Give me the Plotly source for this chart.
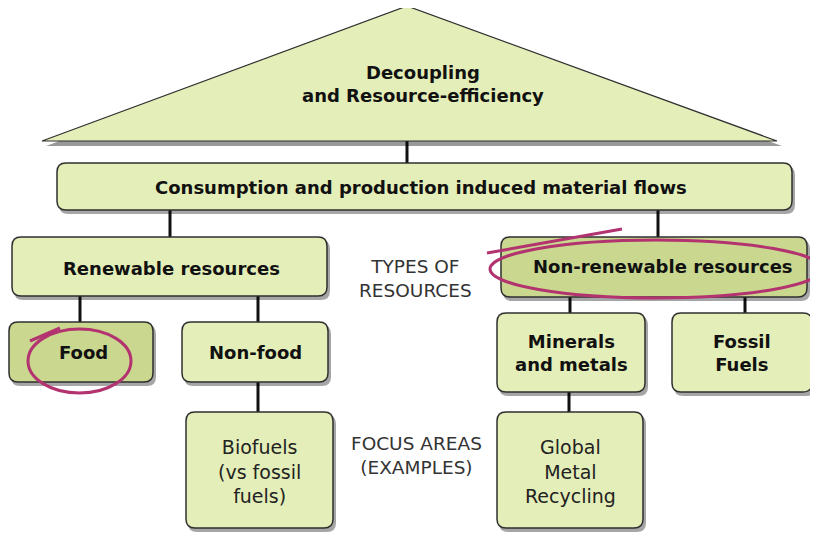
import plotly.graph_objects as go

# ---- content ----
title_lines = ["Decoupling", "and Resource-efficiency"]
flow_label = "Consumption and production induced material flows"
type_labels = ["Renewable resources", "Non-renewable resources"]
sub_labels = ["Food", "Non-food", "Minerals<br>and metals", "Fossil<br>Fuels"]
focus_labels = ["Biofuels<br>(vs fossil<br>fuels)", "Global<br>Metal<br>Recycling"]
side_labels = ["TYPES OF<br>RESOURCES", "FOCUS AREAS<br>(EXAMPLES)"]

# ---- layout geometry (page pixel space; page body has an 8px margin) ----
W, H = 818, 533
OFF = 8
LIGHT = "#e4eeb8"
DARK = "#c9d78f"
EDGE = "#2f2f2f"
PINK = "#b2336f"
FONT = "DejaVu Sans"

boxes = {
    "flow": (57, 163, 792, 210, LIGHT),
    "ren": (12, 237, 327, 296, LIGHT),
    "nonren": (501, 237, 807, 297, DARK),
    "food": (9, 322, 153, 382, DARK),
    "nonfood": (182, 322, 328, 382, LIGHT),
    "minerals": (497, 313, 645, 392, LIGHT),
    "fossil": (672, 313, 812, 392, LIGHT),
    "bio": (186, 412, 333, 528, LIGHT),
    "metal": (497, 412, 643, 528, LIGHT),
}
links = [
    (407, 141, 407, 163),
    (170, 210, 170, 237), (658, 210, 658, 237),
    (80, 296, 80, 322), (258, 296, 258, 322),
    (570, 297, 570, 313), (745, 297, 745, 313),
    (258, 382, 258, 412), (569, 392, 569, 412),
]


def rrect(x0, y0, x1, y1, r=9):
    return (f"M{x0+r},{y0} L{x1-r},{y0} Q{x1},{y0} {x1},{y0+r} "
            f"L{x1},{y1-r} Q{x1},{y1} {x1-r},{y1} L{x0+r},{y1} "
            f"Q{x0},{y1} {x0},{y1-r} L{x0},{y0+r} Q{x0},{y0} {x0+r},{y0} Z")


shapes = []
for x0, y0, x1, y1 in links:
    shapes.append(dict(type="line", x0=x0, y0=y0, x1=x1, y1=y1,
                       line=dict(color="#111111", width=3), layer="below"))

shapes.append(dict(type="path", path="M409,10 L782,146 L46,146 Z",
                   fillcolor="rgba(0,0,0,0.4)", line=dict(width=0)))
shapes.append(dict(type="path", path="M407,6 L777,141 L42,141 Z",
                   fillcolor=LIGHT, line=dict(color=EDGE, width=1.2)))

for key, (x0, y0, x1, y1, col) in boxes.items():
    shapes.append(dict(type="path", path=rrect(x0 + 2, y0 + 3, x1 + 3, y1 + 4),
                       fillcolor="rgba(0,0,0,0.35)", line=dict(width=0)))
    shapes.append(dict(type="path", path=rrect(x0, y0, x1, y1),
                       fillcolor=col, line=dict(color=EDGE, width=1.5)))

shapes.append(dict(type="circle", x0=28, y0=329, x1=131, y1=393,
                   line=dict(color=PINK, width=3)))
shapes.append(dict(type="line", x0=30, y0=341, x1=60, y1=328,
                   line=dict(color=PINK, width=3)))
shapes.append(dict(type="circle", x0=490, y0=240, x1=822, y1=298,
                   line=dict(color=PINK, width=3)))
shapes.append(dict(type="line", x0=487, y0=253, x1=622, y1=229,
                   line=dict(color=PINK, width=3)))

ann = []


def label(x, y, text, size, bold=True, color="#111111"):
    ann.append(dict(x=x, y=y, xref="x", yref="y", showarrow=False,
                    text=f"<b>{text}</b>" if bold else text,
                    font=dict(family=FONT, size=size, color=color),
                    align="center", xanchor="center", yanchor="middle"))


label(423, 84, "<br>".join(title_lines), 18)
label(421, 187, flow_label, 18)
label(171, 268, type_labels[0], 18)
label(663, 266, type_labels[1], 18)
for k, t in zip(["food", "nonfood", "minerals", "fossil"], sub_labels):
    x0, y0, x1, y1, _ = boxes[k]
    label((x0 + x1) / 2 + (2 if k == "food" else 0), (y0 + y1) / 2, t, 18)
for k, t in zip(["bio", "metal"], focus_labels):
    x0, y0, x1, y1, _ = boxes[k]
    label((x0 + x1) / 2, (y0 + y1) / 2 + 1, t, 19, bold=False, color="#222222")
label(415, 278, side_labels[0], 18.5, bold=False, color="#333333")
label(416, 455, side_labels[1], 18.5, bold=False, color="#333333")

fig = go.Figure()
fig.add_trace(go.Scatter(x=[OFF, W], y=[OFF, H], mode="markers",
                         marker=dict(opacity=0), hoverinfo="skip", showlegend=False))
fig.update_layout(
    width=W - OFF, height=H - OFF, margin=dict(l=0, r=0, t=0, b=0),
    paper_bgcolor="white", plot_bgcolor="white",
    xaxis=dict(range=[OFF, W], visible=False, fixedrange=True),
    yaxis=dict(range=[H, OFF], visible=False, fixedrange=True),
    shapes=shapes, annotations=ann, showlegend=False,
)
fig.write_html("out.html")
